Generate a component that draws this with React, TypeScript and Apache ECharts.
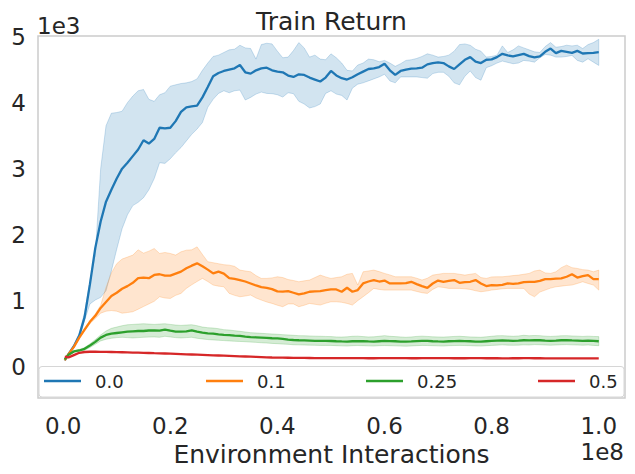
import React, { useEffect, useRef } from "react";
import * as echarts from "echarts";

// Environment interactions, in millions (axis shows units of 1e8)
const STEPS_M = [
  0.3, 1, 2, 3, 4, 5, 6, 7, 8, 9,
  10, 11, 12, 13, 14, 15, 16, 17, 18, 19,
  20, 21, 22, 23, 24, 25, 26, 27, 28, 29,
  30, 31, 32, 33, 34, 35, 36, 37, 38, 39,
  40, 41, 42, 43, 44, 45, 46, 47, 48, 49,
  50, 51, 52, 53, 54, 55, 56, 57, 58, 59,
  60, 61, 62, 63, 64, 65, 66, 67, 68, 69,
  70, 71, 72, 73, 74, 75, 76, 77, 78, 79,
  80, 81, 82, 83, 84, 85, 86, 87, 88, 89,
  90, 91, 92, 93, 94, 95, 96, 97, 98, 99,
  100,
];

const NAMES = ["0.0", "0.1", "0.25", "0.5"];
const COLORS = ["#1f77b4", "#ff7f0e", "#2ca02c", "#d62728"];

const BLUE_MEAN = [
  100, 190, 310, 470, 750, 1250, 1800, 2200, 2500, 2680,
  2850, 3000, 3090, 3190, 3290, 3430, 3380, 3450, 3620, 3610,
  3620, 3720, 3860, 3930, 3945, 3955, 4080, 4236, 4400, 4450,
  4480, 4500, 4520, 4570, 4460, 4440, 4490, 4520, 4530, 4490,
  4470, 4460, 4410, 4390, 4430, 4420, 4380, 4350, 4320, 4380,
  4480, 4413, 4370, 4350, 4385, 4430, 4470, 4510, 4520, 4540,
  4590, 4490, 4420, 4480, 4500, 4515, 4520, 4530, 4580, 4600,
  4610, 4600, 4550, 4510, 4580, 4650, 4690, 4620, 4600, 4650,
  4655, 4690, 4740, 4715, 4700, 4720, 4740, 4705, 4685, 4700,
  4770, 4820, 4750, 4785, 4770, 4755, 4785, 4745, 4750, 4755,
  4765,
];
const BLUE_HI = [
  110, 200, 330, 500, 820, 1300, 1700, 3000, 3650, 3840,
  3850, 3870, 4000, 4100, 4180, 4200, 4050, 4020, 4120, 4150,
  4250, 4270, 4290, 4300, 4320, 4360, 4490, 4600, 4700, 4720,
  4760, 4800, 4810, 4870, 4830, 4820, 4660, 4880, 4900, 4890,
  4780, 4680, 4690, 4790, 4910, 4830, 4690, 4720, 4660, 4650,
  4740, 4680, 4600, 4490, 4480, 4570, 4600, 4660, 4650, 4620,
  4640, 4600, 4550, 4590, 4640, 4650, 4670, 4700, 4740, 4720,
  4690, 4700, 4720, 4780, 4880, 4890, 4870, 4810, 4780, 4690,
  4700, 4720, 4860, 4760, 4800, 4860, 4830, 4800, 4770, 4760,
  4850, 4910, 4840, 4850, 4870, 4860, 4870, 4820, 4880, 4910,
  4960,
];
const BLUE_LO = [
  90, 170, 290, 440, 700, 950, 1010, 1050, 1150, 1450,
  1780, 2090, 2300, 2440, 2490, 2560, 2680, 2850, 3090, 3080,
  3150, 3240, 3320, 3420, 3520, 3600, 3700, 3930, 4050, 4140,
  4180, 4150, 4180, 4190, 4040, 4080, 4130, 4160, 4140, 4136,
  4120, 4085, 4150, 4136, 4020, 3980, 3920, 3940, 3980, 4140,
  4180, 4130, 4110, 4040, 4220, 4280, 4300, 4330, 4360, 4390,
  4430, 4330, 4300, 4390, 4390, 4390, 4390, 4380, 4370, 4440,
  4460, 4460, 4400, 4300, 4270, 4400, 4480, 4380, 4340, 4530,
  4560, 4600, 4630, 4610, 4590, 4600, 4640, 4630, 4614, 4680,
  4730, 4720, 4690, 4690, 4700, 4716, 4640, 4614, 4665, 4614,
  4564,
];

const ORANGE_MEAN = [
  100, 190, 300, 440, 560, 680, 770, 890, 980, 1070,
  1120, 1180, 1220, 1270, 1340, 1350, 1340, 1390, 1400, 1380,
  1380, 1410, 1440, 1490, 1530, 1565, 1520, 1470, 1413, 1440,
  1410, 1340, 1330, 1312, 1290, 1260, 1230, 1205, 1195, 1175,
  1140, 1138, 1145, 1120, 1095, 1110, 1135, 1140, 1145, 1160,
  1170, 1170, 1135, 1195, 1135, 1160, 1261, 1290, 1312, 1290,
  1305, 1261, 1261, 1262, 1265, 1286, 1250, 1220, 1195, 1260,
  1305, 1286, 1300, 1312, 1270, 1280, 1286, 1312, 1260, 1221,
  1236, 1230, 1240, 1261, 1255, 1261, 1280, 1286, 1286, 1300,
  1327, 1327, 1335, 1337, 1362, 1400, 1350, 1370, 1387, 1327,
  1327,
];
const ORANGE_HI = [
  110, 200, 310, 450, 580, 700, 800, 930, 1200, 1420,
  1560, 1630, 1660, 1690, 1770, 1720, 1750, 1790, 1715, 1730,
  1715, 1690, 1740, 1765, 1770, 1815, 1700, 1590, 1575, 1560,
  1545, 1538, 1520, 1463, 1450, 1437, 1380, 1337, 1337, 1345,
  1362, 1350, 1320, 1305, 1286, 1300, 1312, 1350, 1387, 1360,
  1337, 1350, 1362, 1400, 1413, 1236, 1437, 1450, 1463, 1440,
  1413, 1390, 1362, 1362, 1362, 1362, 1340, 1312, 1340, 1387,
  1400, 1413, 1413, 1413, 1400, 1387, 1400, 1413, 1350, 1337,
  1360, 1362, 1362, 1370, 1380, 1387, 1400, 1413, 1450, 1463,
  1420, 1413, 1437, 1500, 1538, 1500, 1488, 1470, 1463, 1437,
  1463,
];
const ORANGE_LO = [
  90, 180, 290, 420, 540, 650, 730, 810, 840, 850,
  840, 810, 820, 832, 870, 910, 950, 990, 1059, 1040,
  1034, 1080, 1110, 1186, 1240, 1290, 1337, 1290, 1236, 1220,
  1210, 1110, 1080, 1059, 1070, 1085, 1040, 1009, 980, 958,
  930, 908, 950, 950, 908, 930, 958, 945, 933, 960,
  983, 983, 975, 958, 933, 1000, 1059, 1120, 1186, 1170,
  1160, 1160, 1160, 1160, 1160, 1160, 1140, 1120, 1110, 1170,
  1210, 1200, 1186, 1186, 1186, 1180, 1170, 1150, 1135, 1145,
  1160, 1170, 1180, 1186, 1186, 1186, 1186, 1100, 1059, 1130,
  1160, 1190, 1210, 1220, 1230, 1236, 1260, 1286, 1260, 1236,
  1160,
];

const GREEN_MEAN = [
  110, 180, 230, 245, 270, 320, 375, 440, 480, 500,
  510, 520, 530, 535, 540, 540, 548, 550, 545, 562,
  545, 530, 530, 535, 550, 530, 515, 505, 500, 490,
  482, 478, 470, 465, 455, 448, 445, 440, 435, 430,
  428, 420, 410, 404, 400, 398, 395, 392, 390, 390,
  389, 385, 382, 380, 385, 388, 385, 382, 380, 385,
  390, 388, 385, 380, 378, 382, 388, 392, 390, 385,
  382, 380, 385, 388, 390, 388, 385, 380, 378, 385,
  390, 395, 398, 395, 392, 395, 400, 398, 402, 400,
  395, 392, 395, 400, 402, 398, 395, 392, 395, 390,
  385,
];
const GREEN_HI = [
  120, 190, 240, 260, 290, 345, 410, 480, 540, 580,
  600, 620, 635, 640, 645, 650, 645, 640, 645, 650,
  640, 630, 625, 630, 635, 620, 600, 590, 585, 575,
  560, 555, 545, 535, 525, 515, 510, 505, 500, 495,
  490, 485, 480, 475, 470, 468, 465, 462, 460, 458,
  455, 450, 448, 452, 460, 462, 455, 450, 452, 460,
  470, 460, 455, 450, 445, 450, 458, 462, 458, 452,
  450, 448, 452, 458, 460, 455, 450, 448, 445, 452,
  460, 468, 470, 465, 460, 465, 475, 468, 472, 470,
  462, 458, 462, 468, 470, 465, 462, 458, 462, 458,
  455,
];
const GREEN_LO = [
  100, 170, 220, 232, 250, 290, 340, 390, 415, 430,
  440, 445, 440, 435, 440, 445, 448, 450, 445, 460,
  450, 440, 435, 440, 445, 430, 420, 410, 405, 400,
  395, 390, 385, 382, 378, 372, 368, 362, 358, 352,
  348, 342, 338, 332, 330, 328, 326, 324, 322, 322,
  322, 318, 315, 312, 318, 320, 318, 315, 312, 318,
  320, 318, 315, 312, 310, 314, 318, 322, 320, 318,
  315, 312, 318, 320, 322, 320, 318, 314, 312, 318,
  322, 326, 330, 326, 324, 326, 330, 328, 334, 332,
  328, 325, 328, 332, 334, 330, 328, 325, 328, 322,
  318,
];

const RED_MEAN = [
  150, 140, 175, 210, 222, 226, 226, 225, 224, 222,
  220, 218, 216, 214, 212, 210, 207, 204, 202, 199,
  196, 193, 190, 187, 184, 181, 178, 175, 172, 169,
  166, 163, 160, 157, 154, 151, 148, 145, 142, 139,
  137, 136, 135, 134, 133, 132, 131, 130, 130, 129,
  128, 128, 128, 129, 129, 128, 128, 127, 127, 128,
  128, 129, 129, 128, 128, 127, 127, 128, 128, 129,
  129, 128, 128, 127, 127, 127, 128, 128, 128, 127,
  127, 127, 126, 126, 127, 127, 128, 128, 127, 127,
  126, 126, 126, 125, 125, 126, 126, 126, 125, 125,
  125,
];

const X_LABELS = [0, 20, 40, 60, 80, 100];
const Y_LABELS = [0, 1000, 2000, 3000, 4000, 5000];

const MEANS = [BLUE_MEAN, ORANGE_MEAN, GREEN_MEAN, RED_MEAN];
const BANDS: [number[], number[], number][] = [
  [BLUE_LO, BLUE_HI, 0],
  [ORANGE_LO, ORANGE_HI, 1],
  [GREEN_LO, GREEN_HI, 2],
];

const FONT = "DejaVu Sans";
const TEXT = "#262626";
const LEGEND_LEFT = [44, 206, 366, 538];

function rgba(hex: string, a: number) {
  const n = parseInt(hex.slice(1), 16);
  return `rgba(${(n >> 16) & 255},${(n >> 8) & 255},${n & 255},${a})`;
}

function bandSeries(lo: number[], hi: number[], color: string) {
  return {
    type: "custom",
    silent: true,
    z: 2,
    data: [[STEPS_M[0], lo[0]]],
    renderItem: (_p: any, api: any) => {
      const pts: number[][] = [];
      for (let i = 0; i < STEPS_M.length; i++) pts.push(api.coord([STEPS_M[i], hi[i]]));
      for (let i = STEPS_M.length - 1; i >= 0; i--) pts.push(api.coord([STEPS_M[i], lo[i]]));
      return {
        type: "polygon",
        shape: { points: pts },
        style: { fill: rgba(color, 0.2), stroke: rgba(color, 0.22), lineWidth: 1 },
      };
    },
  };
}

export default function App() {
  const ref = useRef<HTMLDivElement>(null);
  useEffect(() => {
    const chart = echarts.init(ref.current!, null, { renderer: "svg" });
    const series: any[] = [];
    for (let s = 0; s < 4; s++) {
      const band = BANDS.find((b) => b[2] === s);
      if (band) series.push(bandSeries(band[0], band[1], COLORS[s]));
      series.push({
        type: "line",
        name: NAMES[s],
        color: COLORS[s],
        showSymbol: false,
        symbol: "none",
        z: 3,
        lineStyle: { width: 2.3, color: COLORS[s] },
        data: STEPS_M.map((x, i) => [x, MEANS[s][i]]),
      });
    }
    const option: any = {
      animation: false,
      backgroundColor: "#ffffff",
      textStyle: { fontFamily: FONT },
      title: {
        text: "Train Return",
        left: 331.5,
        textAlign: "center",
        top: 6,
        padding: 0,
        textStyle: { fontSize: 25, fontWeight: "normal", color: TEXT, fontFamily: FONT, lineHeight: 30 },
      },
      grid: {
        left: 38,
        right: 10,
        top: 36,
        bottom: 76,
        show: true,
        borderColor: "#cccccc",
        borderWidth: 1.5,
        backgroundColor: "#ffffff",
      },
      xAxis: {
        type: "value",
        min: -4.7,
        max: 104.9,
        name: "Environment Interactions",
        nameLocation: "middle",
        nameGap: 44,
        nameTextStyle: { fontSize: 25, color: TEXT, fontFamily: FONT, lineHeight: 25 },
        axisLine: { show: false },
        axisTick: { show: false },
        splitLine: { show: false },
        axisLabel: {
          customValues: X_LABELS,
          formatter: (v: number) => (v / 100).toFixed(1),
          fontSize: 23,
          color: TEXT,
          fontFamily: FONT,
          margin: 16,
        },
      },
      yAxis: {
        type: "value",
        min: -475,
        max: 5010,
        axisLine: { show: false },
        axisTick: { show: false },
        splitLine: { show: false },
        axisLabel: {
          customValues: Y_LABELS,
          formatter: (v: number) => String(v / 1000),
          fontSize: 23,
          color: TEXT,
          fontFamily: FONT,
          margin: 12,
        },
      },
      legend: NAMES.map((n, i) => ({
        data: [n],
        left: LEGEND_LEFT[i],
        top: 372,
        padding: 0,
        z: 10,
        itemWidth: 37,
        itemHeight: 2.5,
        icon: "rect",
        selectedMode: false,
        textStyle: { fontSize: 18, color: TEXT, fontFamily: FONT, lineHeight: 18, padding: [0, 0, 0, 9] },
      })),
      graphic: [
        {
          type: "rect",
          z: 5,
          shape: { x: 39, y: 366.5, width: 585, height: 30.5, r: 3 },
          style: { fill: "rgba(255,255,255,0.8)", stroke: "#d6d6d6", lineWidth: 1 },
        },
        {
          type: "text",
          z: 5,
          x: 37,
          y: 26,
          style: { text: "1e3", fontSize: 23, fontFamily: FONT, fill: TEXT, textAlign: "left", textVerticalAlign: "middle" },
        },
        {
          type: "text",
          z: 5,
          x: 624,
          y: 452,
          style: { text: "1e8", fontSize: 23, fontFamily: FONT, fill: TEXT, textAlign: "right", textVerticalAlign: "middle" },
        },
      ],
      series,
    };
    chart.setOption(option);
    return () => chart.dispose();
  }, []);
  return (
    <div
      ref={ref}
      style={{ position: "fixed", left: 0, top: 0, width: 635, height: 474, background: "#ffffff" }}
    />
  );
}
